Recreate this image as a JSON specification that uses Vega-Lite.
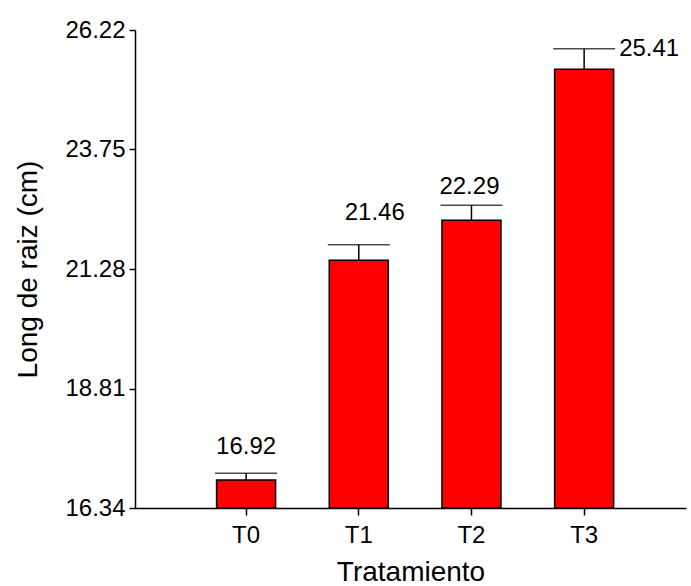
{
  "$schema": "https://vega.github.io/schema/vega-lite/v6.json",
  "width": 551,
  "height": 478,
  "autosize": {"type": "none"},
  "padding": {"left": 135, "top": 30, "right": 5, "bottom": 78},
  "background": "white",
  "config": {
    "view": {"stroke": null},
    "font": "Liberation Sans",
    "axis": {"grid": false, "domainColor": "black", "tickColor": "black", "labelColor": "black", "titleColor": "black", "domainWidth": 1.5, "tickWidth": 1.5, "labelFont": "Liberation Sans", "titleFont": "Liberation Sans", "titleFontWeight": "normal"}
  },
  "data": {
    "values": [
      {"T": "T0", "value": 16.92, "upper": 17.06},
      {"T": "T1", "value": 21.46, "upper": 21.78},
      {"T": "T2", "value": 22.29, "upper": 22.6},
      {"T": "T3", "value": 25.41, "upper": 25.83}
    ]
  },
  "encoding": {
    "x": {
      "field": "T", "type": "nominal", "sort": ["T0", "T1", "T2", "T3"],
      "scale": {"paddingInner": 0.476, "paddingOuter": 0.683, "align": 0.53},
      "axis": {"title": "Tratamiento", "labelAngle": 0, "labelFontSize": 24, "titleFontSize": 28, "tickSize": 7, "labelPadding": 8, "titlePadding": 11}
    }
  },
  "layer": [
    {
      "mark": {"type": "bar", "fill": "#ff0000", "stroke": "black", "strokeWidth": 1.5},
      "encoding": {
        "y": {
          "field": "value", "type": "quantitative",
          "scale": {"domain": [16.34, 26.22], "nice": false, "zero": false},
          "axis": {"title": "Long de raiz (cm)", "values": [16.34, 18.81, 21.28, 23.75, 26.22], "format": ".2f", "labelFontSize": 24, "titleFontSize": 28, "tickSize": 6, "labelPadding": 4, "titlePadding": 22}
        },
        "y2": {"datum": 16.34}
      }
    },
    {
      "mark": {"type": "rule", "color": "black", "strokeWidth": 1.5},
      "encoding": {"y": {"field": "value", "type": "quantitative"}, "y2": {"field": "upper"}}
    },
    {
      "mark": {"type": "tick", "color": "black", "thickness": 1.5, "size": 62, "orient": "horizontal"},
      "encoding": {"y": {"field": "upper", "type": "quantitative"}}
    },
    {
      "transform": [{"filter": "datum.T === 'T0'"}],
      "mark": {"type": "text", "fontSize": 24, "baseline": "middle", "dy": -26, "color": "black"},
      "encoding": {"y": {"field": "upper", "type": "quantitative"}, "text": {"field": "value", "type": "quantitative", "format": ".2f"}}
    },
    {
      "transform": [{"filter": "datum.T === 'T1'"}],
      "mark": {"type": "text", "fontSize": 24, "baseline": "middle", "dy": -32, "dx": 16, "color": "black"},
      "encoding": {"y": {"field": "upper", "type": "quantitative"}, "text": {"field": "value", "type": "quantitative", "format": ".2f"}}
    },
    {
      "transform": [{"filter": "datum.T === 'T2'"}],
      "mark": {"type": "text", "fontSize": 24, "baseline": "middle", "dy": -18, "dx": -2, "color": "black"},
      "encoding": {"y": {"field": "upper", "type": "quantitative"}, "text": {"field": "value", "type": "quantitative", "format": ".2f"}}
    },
    {
      "transform": [{"filter": "datum.T === 'T3'"}],
      "mark": {"type": "text", "fontSize": 24, "baseline": "middle", "align": "left", "dx": 35, "dy": 0, "color": "black"},
      "encoding": {"y": {"field": "upper", "type": "quantitative"}, "text": {"field": "value", "type": "quantitative", "format": ".2f"}}
    }
  ]
}
